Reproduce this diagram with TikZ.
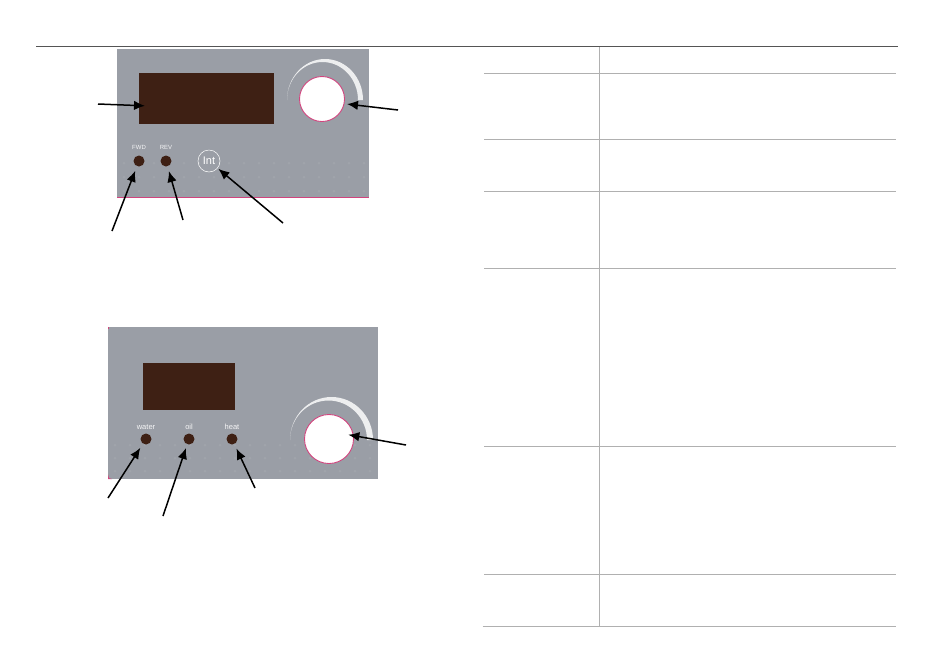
\documentclass[tikz,border=0pt]{standalone}
\usepackage{fontspec}
\setmainfont{Liberation Sans}
\usetikzlibrary{arrows.meta}
\definecolor{panelgrey}{HTML}{9A9EA6}
\definecolor{dotgrey}{HTML}{A0A4AB}
\definecolor{ledbrown}{HTML}{3E2014}
\definecolor{rimpink}{HTML}{D2447E}
\definecolor{ruledark}{HTML}{555555}
\definecolor{rulegrey}{HTML}{B0B0B0}
\tikzset{
    x=1pt, y=-1pt,
    panel/.style={fill=panelgrey, inner sep=0pt, outer sep=0pt},
    screen/.style={fill=ledbrown, inner sep=0pt, outer sep=0pt},
    knob/.style={circle, fill=white, draw=rimpink, line width=0.9pt, inner sep=0pt, outer sep=0pt},
    led/.style={circle, fill=ledbrown, minimum size=11pt, inner sep=0pt, outer sep=0pt},
    tag/.style={white!90!panelgrey, font=\fontsize{6}{6}\selectfont, inner sep=0pt},
    callout/.style={-{Latex[length=11pt,width=9.5pt]}, line width=1.5pt, black},
    rulerow/.style={rulegrey, line width=0.9pt}
}

\begin{document}
\begin{tikzpicture}
\useasboundingbox (0,0) rectangle (950,665);

\draw[ruledark, line width=1.8pt] (36,46.5) -- (898,46.5);

% upper panel
\node[panel, minimum width=252pt, minimum height=148pt] (panelA) at (243,123) {};
\fill[rimpink] (117,196.6) rectangle (369,197.3);
\foreach \x in {124,139,...,364}
    \foreach \y in {163,177,191}
        \fill[dotgrey] (\x,\y) circle (1.5);
\node[screen, minimum width=135pt, minimum height=51pt] (dispA) at (206.5,98.5) {};
\fill[white!82!panelgrey] (287,100) arc (180:360:38 and 41) -- (358,100) arc (360:180:35.5 and 38) -- cycle;
\node[knob, minimum size=45pt] (knobA) at (322,99) {};
\node[led] (ledFwd) at (139,161) {};
\node[led] (ledRev) at (166,161) {};
\node[tag] (tagFwd) at (139,147) {FWD};
\node[tag] (tagRev) at (166,147) {REV};
\node[circle, draw=white, line width=0.5pt, minimum size=22pt, inner sep=0pt, white, font=\fontsize{11}{11}\selectfont] (btnInt) at (209,161) {Int};

\coordinate (fromDispA) at (98,104);
\coordinate (fromKnobA) at (398,110);
\coordinate (fromFwd) at (112,231);
\coordinate (fromRev) at (183,220);
\coordinate (fromInt) at (283,223);
\draw[callout, shorten >=-6pt] (fromDispA) -- (dispA.186);
\draw[callout, shorten >=3pt] (fromKnobA) -- (knobA.-12);
\draw[callout, shorten >=5pt] (fromFwd) -- (ledFwd);
\draw[callout, shorten >=5pt] (fromRev) -- (ledRev);
\draw[callout, shorten >=1pt] (fromInt) -- (btnInt);

% lower panel
\node[panel, minimum width=270pt, minimum height=152pt] (panelB) at (243,403) {};
\fill[rimpink] (108,474) -- (108,479) -- (112,479) -- (109,478) -- cycle;
\fill[rimpink] (108,327) rectangle (109,329);
\foreach \x in {115,130,...,370}
    \foreach \y in {445,458,471}
        \fill[dotgrey] (\x,\y) circle (1.5);
\node[screen, minimum width=92pt, minimum height=47pt] (dispB) at (189,386.5) {};
\fill[white!82!panelgrey] (290,440) arc (180:360:41.5 and 43) -- (367,440) arc (360:180:38.5 and 39.5) -- cycle;
\node[knob, minimum size=49pt] (knobB) at (329,439) {};
\node[led] (ledWater) at (146,439) {};
\node[led] (ledOil) at (189,439) {};
\node[led] (ledHeat) at (232,439) {};
\node[tag, font=\fontsize{7.5}{7.5}\selectfont] (tagWater) at (146,427) {water};
\node[tag, font=\fontsize{7.5}{7.5}\selectfont] (tagOil) at (189,427) {oil};
\node[tag, font=\fontsize{7.5}{7.5}\selectfont] (tagHeat) at (232,427) {heat};

\coordinate (fromWater) at (108,498);
\coordinate (fromOil) at (163,516);
\coordinate (fromHeat) at (255,488);
\coordinate (fromKnobB) at (406,445);
\draw[callout, shorten >=5pt] (fromWater) -- (ledWater);
\draw[callout, shorten >=4pt] (fromOil) -- (ledOil);
\draw[callout, shorten >=5pt] (fromHeat) -- (ledHeat);
\draw[callout, shorten >=-5pt] (fromKnobB) -- (knobB.8);

% table rules
\foreach \y in {73,139,191,268,446,574}
    \draw[rulerow] (484,\y) -- (896,\y);
\draw[rulerow] (482.5,626) -- (896,626);
\draw[rulerow] (599,47) -- (599,626);
\end{tikzpicture}
\end{document}
